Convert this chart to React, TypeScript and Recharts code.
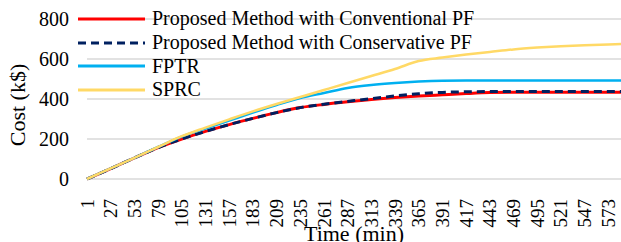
import { CartesianGrid, Label, Line, LineChart, XAxis, YAxis } from "recharts";

// sample times (min)
const minutes = [1, 27, 53, 79, 105, 131, 157, 183, 209, 235, 261, 287, 313, 339, 365, 391, 417, 443, 469, 495, 521, 547, 573, 587];
const conventionalPF = [0, 52, 105, 157, 200, 238, 272, 303, 332, 357, 373, 386, 397, 407, 415, 421, 427, 432, 434, 434, 434, 434, 434, 434];
const conservativePF = [0, 52, 105, 157, 200, 238, 272, 303, 332, 357, 374, 388, 402, 415, 426, 433, 436, 437, 437, 437, 437, 437, 437, 437];
const fptr = [0, 53, 106, 160, 212, 252, 292, 332, 370, 405, 430, 455, 470, 480, 487, 491, 492, 492, 492, 492, 492, 492, 492, 492];
const sprc = [0, 53, 106, 160, 214, 257, 298, 338, 375, 410, 445, 480, 515, 550, 590, 607, 622, 635, 648, 657, 664, 669, 673, 675];

const xTicks = [1, 27, 53, 79, 105, 131, 157, 183, 209, 235, 261, 287, 313, 339, 365, 391, 417, 443, 469, 495, 521, 547, 573];
const yTicks = [0, 200, 400, 600, 800];

const series = [
    { key: "conv", name: "Proposed Method with Conventional PF", color: "#ff0000", dash: undefined, width: 3 },
    { key: "cons", name: "Proposed Method with Conservative PF", color: "#002060", dash: "8 5", width: 3 },
    { key: "fptr", name: "FPTR", color: "#00b0f0", dash: undefined, width: 2.5 },
    { key: "sprc", name: "SPRC", color: "#ffd966", dash: undefined, width: 2.5 },
];

const rows = minutes.map((m, i) => ({
    minute: m,
    conv: conventionalPF[i],
    cons: conservativePF[i],
    fptr: fptr[i],
    sprc: sprc[i],
}));

const FONT = "'Liberation Serif', 'Times New Roman', serif";

function XTick({ x, y, payload }: any) {
    return (
        <text
            x={x}
            y={y}
            transform={`rotate(-90, ${x}, ${y})`}
            textAnchor="end"
            dy="0.35em"
            fontSize={19}
            fontFamily={FONT}
            fill="#000"
        >
            {payload.value}
        </text>
    );
}

export default function App() {
    return (
        <div style={{ position: "fixed", left: 0, top: 0, width: 621, height: 242, background: "#fff" }}>
            <LineChart width={621} height={242} data={rows} margin={{ top: 19, right: 0, bottom: 0, left: 0 }}>
                <CartesianGrid vertical={false} stroke="#d9d9d9" strokeWidth={1.5} />
                <XAxis
                    dataKey="minute"
                    type="number"
                    domain={[1, 587]}
                    ticks={xTicks}
                    interval={0}
                    height={63}
                    tickLine={false}
                    axisLine={false}
                    tick={<XTick />}
                    tickMargin={14}
                >
                    <Label
                        content={({ viewBox }: any) => (
                            <text
                                x={viewBox.x + viewBox.width / 2}
                                y={241}
                                textAnchor="middle"
                                fontSize={22}
                                fontFamily={FONT}
                                fill="#000"
                            >
                                Time (min)
                            </text>
                        )}
                    />
                </XAxis>
                <YAxis
                    domain={[0, 800]}
                    ticks={yTicks}
                    width={87}
                    tickLine={false}
                    axisLine={false}
                    tickSize={0}
                    tickMargin={18}
                    tick={{ fontSize: 20, fontFamily: FONT, fill: "#000" }}
                >
                    <Label
                        content={() => (
                            <text
                                x={25}
                                y={105}
                                transform="rotate(-90, 25, 105)"
                                textAnchor="middle"
                                fontSize={22}
                                fontFamily={FONT}
                                fill="#000"
                            >
                                Cost (k$)
                            </text>
                        )}
                    />
                </YAxis>
                {series.map((s) => (
                    <Line
                        key={s.key}
                        dataKey={s.key}
                        name={s.name}
                        stroke={s.color}
                        strokeWidth={s.width}
                        strokeDasharray={s.dash}
                        dot={false}
                        type="monotone"
                        isAnimationActive={false}
                    />
                ))}
            </LineChart>
            <div style={{ position: "absolute", left: 78, top: 7, fontFamily: FONT, fontSize: 20, color: "#000" }}>
                {series.map((s) => (
                    <div key={s.key} style={{ display: "flex", alignItems: "center", height: 23.7, whiteSpace: "nowrap" }}>
                        <svg width={67} height={6} style={{ marginRight: 7 }}>
                            <line x1={0} y1={3} x2={67} y2={3} stroke={s.color} strokeWidth={3} strokeDasharray={s.dash} />
                        </svg>
                        <span>{s.name}</span>
                    </div>
                ))}
            </div>
        </div>
    );
}
